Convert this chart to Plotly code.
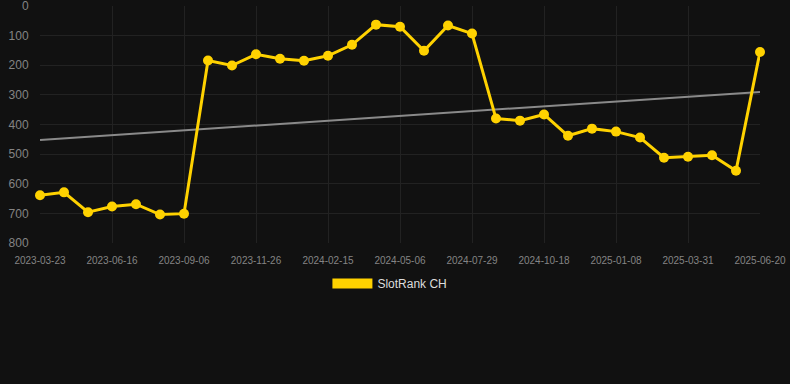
import plotly.graph_objects as go

dates = [
    "2023-03-23", "2023-04-21", "2023-05-19", "2023-06-16", "2023-07-13", "2023-08-09",
    "2023-09-06", "2023-10-03", "2023-10-30", "2023-11-26", "2023-12-23", "2024-01-19",
    "2024-02-15", "2024-03-13", "2024-04-09", "2024-05-06", "2024-06-02", "2024-07-01",
    "2024-07-29", "2024-08-24", "2024-09-21", "2024-10-18", "2024-11-14", "2024-12-11",
    "2025-01-08", "2025-02-03", "2025-03-03", "2025-03-31", "2025-04-27", "2025-05-24",
    "2025-06-20",
]
ranks = [
    639, 629, 696, 677, 669, 704, 701, 184, 201, 163, 178, 185, 168, 131, 63, 70,
    151, 66, 93, 380, 387, 366, 438, 414, 424, 444, 512, 509, 504, 556, 155,
]
trend_values = [452, 290]
tick_labels = dates[::3]
y_ticks = [0, 100, 200, 300, 400, 500, 600, 700, 800]

gold = "#FFD200"
font_family = "Liberation Sans, Arial, sans-serif"

fig = go.Figure()
fig.add_trace(go.Scatter(
    x=[dates[0], dates[-1]], y=trend_values, mode="lines",
    line=dict(color="#8a8a8a", width=2), showlegend=False, hoverinfo="skip",
    cliponaxis=False,
))
fig.add_trace(go.Scatter(
    x=dates, y=ranks, mode="lines+markers", name="SlotRank CH",
    line=dict(color=gold, width=3), marker=dict(color=gold, size=10),
    showlegend=False, cliponaxis=False,
))
fig.add_trace(go.Scatter(
    x=[None], y=[None], mode="lines", name="SlotRank CH",
    line=dict(color=gold, width=12), showlegend=True,
))

fig.update_layout(
    width=790, height=384,
    paper_bgcolor="#111111", plot_bgcolor="#111111",
    margin=dict(l=40, r=30, t=6, b=141, autoexpand=False),
    font=dict(family=font_family, color="#888888"),
    showlegend=True,
    legend=dict(
        orientation="h", x=0.486, xanchor="center", y=-0.11, yanchor="top",
        font=dict(size=12, color="#dddddd"), itemwidth=40,
        bgcolor="rgba(0,0,0,0)",
    ),
    xaxis=dict(
        type="category", categoryorder="array", categoryarray=dates,
        range=[0, len(dates) - 1], automargin=False,
        tickmode="array", tickvals=tick_labels, ticktext=tick_labels,
        showgrid=True, gridcolor="#222222", gridwidth=1,
        zeroline=False, showline=False, ticklabeloverflow="allow",
        ticks="outside", ticklen=8, tickcolor="rgba(0,0,0,0)",
        tickfont=dict(size=10, color="#848484"),
    ),
    yaxis=dict(
        range=[800, 0], tickmode="array", tickvals=y_ticks, automargin=False,
        showgrid=True, gridcolor="#222222", gridwidth=1,
        zeroline=False, showline=False, ticklabeloverflow="allow",
        ticks="outside", ticklen=8, tickcolor="rgba(0,0,0,0)",
        tickfont=dict(size=12, color="#848484"),
    ),
)

fig.write_html(
    "out.html",
    config={"displayModeBar": False},
    post_script="document.body.style.margin='0';document.body.style.background='#111111';",
)
